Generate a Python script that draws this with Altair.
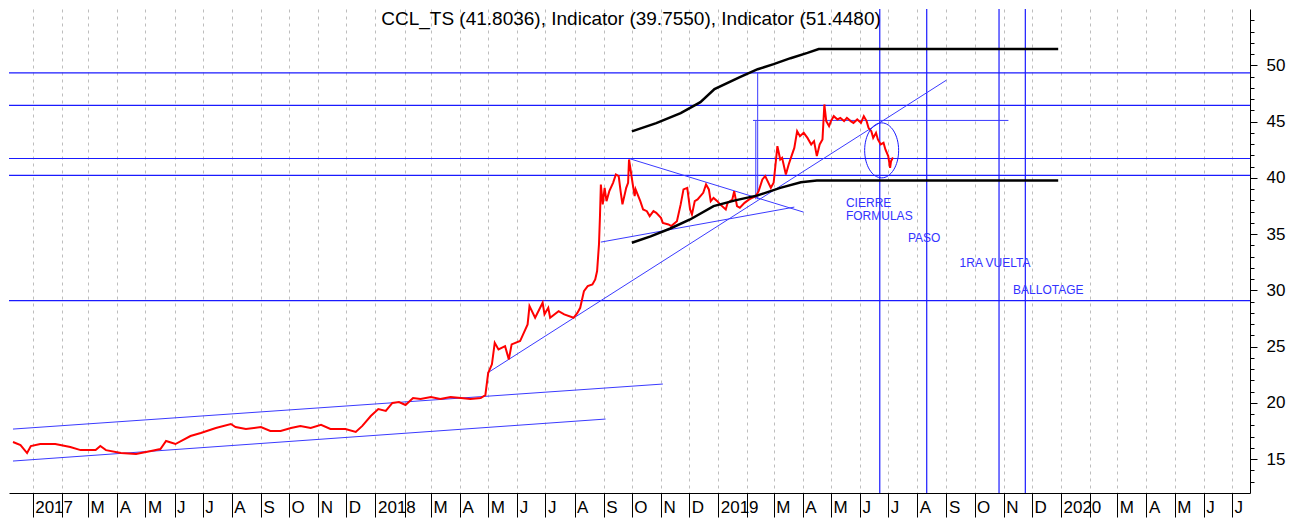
import altair as alt
import pandas as pd

# ---------------- data ----------------
red_dates = [
    "2016-12-11", "2016-12-19", "2016-12-26", "2016-12-30", "2017-01-09", "2017-01-25", "2017-02-10", "2017-02-21", "2017-03-09", "2017-03-14",
    "2017-03-20", "2017-04-05", "2017-04-21", "2017-05-07", "2017-05-17", "2017-05-23", "2017-06-02", "2017-06-18", "2017-06-29", "2017-07-15",
    "2017-07-31", "2017-08-05", "2017-08-16", "2017-09-01", "2017-09-11", "2017-09-22", "2017-10-03", "2017-10-13", "2017-10-24", "2017-11-04",
    "2017-11-14", "2017-11-30", "2017-12-11", "2017-12-18", "2017-12-27", "2018-01-04", "2018-01-12", "2018-01-19", "2018-01-26", "2018-02-02",
    "2018-02-10", "2018-02-18", "2018-03-01", "2018-03-11", "2018-03-22", "2018-04-02", "2018-04-12", "2018-04-23", "2018-04-28", "2018-05-01",
    "2018-05-05", "2018-05-08", "2018-05-12", "2018-05-19", "2018-05-23", "2018-05-26", "2018-06-04", "2018-06-12", "2018-06-14", "2018-06-20",
    "2018-06-28", "2018-06-30", "2018-07-04", "2018-07-06", "2018-07-15", "2018-07-21", "2018-07-31", "2018-08-04", "2018-08-07", "2018-08-11",
    "2018-08-15", "2018-08-20", "2018-08-23", "2018-08-25", "2018-08-27", "2018-08-28", "2018-08-29", "2018-08-31", "2018-09-02", "2018-09-04",
    "2018-09-07", "2018-09-11", "2018-09-14", "2018-09-17", "2018-09-19", "2018-09-21", "2018-09-25", "2018-09-27", "2018-09-28", "2018-10-02",
    "2018-10-04", "2018-10-05", "2018-10-10", "2018-10-13", "2018-10-17", "2018-10-20", "2018-10-24", "2018-10-27", "2018-11-01", "2018-11-03",
    "2018-11-09", "2018-11-12", "2018-11-18", "2018-11-22", "2018-11-25", "2018-11-29", "2018-12-02", "2018-12-04", "2018-12-07", "2018-12-10",
    "2018-12-13", "2018-12-16", "2018-12-19", "2018-12-22", "2018-12-24", "2018-12-27", "2018-12-31", "2019-01-03", "2019-01-09", "2019-01-11",
    "2019-01-16", "2019-01-18", "2019-01-21", "2019-01-24", "2019-01-29", "2019-02-03", "2019-02-06", "2019-02-10", "2019-02-13", "2019-02-17",
    "2019-02-20", "2019-02-26", "2019-03-01", "2019-03-05", "2019-03-08", "2019-03-10", "2019-03-14", "2019-03-17", "2019-03-20", "2019-03-23",
    "2019-03-26", "2019-03-29", "2019-04-02", "2019-04-06", "2019-04-10", "2019-04-13", "2019-04-16", "2019-04-19", "2019-04-22", "2019-04-24",
    "2019-04-26", "2019-04-29", "2019-05-01", "2019-05-04", "2019-05-08", "2019-05-11", "2019-05-15", "2019-05-18", "2019-05-22", "2019-05-25",
    "2019-05-29", "2019-06-02", "2019-06-05", "2019-06-08", "2019-06-10", "2019-06-13", "2019-06-15", "2019-06-18", "2019-06-20", "2019-06-23",
    "2019-06-26", "2019-06-28", "2019-07-01", "2019-07-03", "2019-07-04", "2019-07-06",
]
red_values = [
    16.53, 16.26, 15.55, 16.17, 16.35, 16.35, 16.08, 15.81, 15.81, 16.17,
    15.81, 15.55, 15.46, 15.73, 15.91, 16.62, 16.35, 17.06, 17.33, 17.78,
    18.13, 17.86, 17.69, 17.86, 17.51, 17.51, 17.78, 17.96, 17.78, 18.05,
    17.69, 17.69, 17.42, 17.96, 18.84, 19.46, 19.29, 20.00, 20.08, 19.82,
    20.44, 20.35, 20.53, 20.35, 20.53, 20.44, 20.35, 20.44, 20.70, 22.65,
    23.43, 25.35, 24.76, 25.05, 23.87, 25.20, 25.50, 26.98, 28.60, 27.57,
    28.90, 27.87, 28.45, 27.57, 28.16, 27.87, 27.57, 28.00, 28.45, 29.94,
    30.38, 30.53, 30.98, 31.72, 34.09, 36.45, 39.41, 37.64, 39.11, 37.93,
    38.82, 39.56, 40.30, 40.15, 38.82, 37.64, 39.11, 39.56, 41.63, 39.41,
    38.37, 38.97, 37.93, 37.19, 37.04, 36.60, 37.04, 36.89, 36.45, 36.00,
    35.86, 35.71, 36.15, 37.64, 38.97, 39.11, 37.19, 36.75, 37.93, 38.08,
    38.37, 38.67, 39.41, 38.97, 37.93, 38.22, 37.93, 37.64, 37.19, 37.78,
    38.08, 38.82, 37.49, 37.34, 37.78, 38.08, 38.22, 38.37, 38.82, 39.86,
    40.15, 39.11, 39.56, 42.82, 41.63, 41.78, 40.30, 41.19, 41.93, 42.66,
    44.15, 43.70, 44.00, 43.55, 42.97, 43.26, 41.93, 42.97, 43.41, 46.52,
    45.04, 44.59, 45.04, 45.48, 45.19, 45.33, 45.04, 45.33, 45.04, 44.88,
    45.19, 44.88, 45.48, 45.04, 44.44, 44.15, 43.55, 44.00, 43.41, 42.97,
    43.11, 42.52, 41.93, 40.89, 41.48, 41.80,
]

upper_dates = ["2018-10-01", "2018-10-27", "2018-11-22", "2018-12-13", "2018-12-28", "2019-01-24",
               "2019-02-12", "2019-03-01", "2019-03-19", "2019-04-06", "2019-04-18", "2019-12-29"]
upper_values = [44.13, 44.86, 45.75, 46.72, 47.88, 48.94, 49.65, 50.10, 50.63, 51.10, 51.448, 51.448]

lower_dates = ["2018-10-01", "2018-10-21", "2018-11-11", "2018-12-02", "2018-12-27", "2019-01-19",
               "2019-02-12", "2019-03-08", "2019-03-30", "2019-04-16", "2019-12-29"]
lower_values = [34.23, 34.80, 35.50, 36.30, 37.49, 38.00, 38.44, 39.11, 39.60, 39.755, 39.755]

hline_values = [49.33, 46.43, 41.72, 40.21, 29.10]
vline_dates = ["2019-06-22", "2019-08-11", "2019-10-27", "2019-11-24"]

seg_start_dates = ["2016-12-11", "2016-12-11", "2018-04-30", "2018-09-29", "2018-08-29", "2019-02-10", "2019-02-12", "2019-02-07"]
seg_start_values = [17.68, 14.84, 22.65, 41.69, 34.29, 45.04, 49.33, 45.10]
seg_end_dates = ["2018-11-03", "2018-09-03", "2019-09-01", "2019-04-02", "2019-03-23", "2019-02-10", "2019-02-12", "2019-11-06"]
seg_end_values = [21.68, 18.57, 48.68, 36.95, 37.40, 38.10, 38.10, 45.10]

note_labels = ["CIERRE", "FORMULAS", "PASO", "1RA VUELTA", "BALLOTAGE"]
note_dates = ["2019-05-17", "2019-05-17", "2019-07-22", "2019-09-15", "2019-11-11"]
note_values = [37.80, 36.63, 34.67, 32.40, 30.05]

ellipse_dates = ["2019-06-24"]
ellipse_values = [42.44]

title_text = "CCL_TS (41.8036), Indicator (39.7550), Indicator (51.4480)"

# ---------------- tables ----------------
red_df = pd.DataFrame({"date": red_dates, "value": red_values})
upper_df = pd.DataFrame({"date": upper_dates, "value": upper_values})
lower_df = pd.DataFrame({"date": lower_dates, "value": lower_values})
h_df = pd.DataFrame({"value": hline_values})
v_df = pd.DataFrame({"date": vline_dates})
seg_df = pd.DataFrame({"date": seg_start_dates, "value": seg_start_values,
                       "date2": seg_end_dates, "value2": seg_end_values})
note_df = pd.DataFrame({"date": note_dates, "value": note_values, "label": note_labels})
ell_df = pd.DataFrame({"date": ellipse_dates, "value": ellipse_values})
title_df = pd.DataFrame({"t": [title_text]})

# ---------------- scales / axes ----------------
x_scale = alt.Scale(
    type="utc",
    domain=[alt.DateTime(year=2016, month=12, date=6, hours=18, utc=True),
            alt.DateTime(year=2020, month=7, date=20, hours=6, utc=True)],
)
x_axis = alt.Axis(
    title=None,
    tickCount={"interval": "month", "step": 1},
    labelExpr=("utcmonth(datum.value) === 0 ? utcFormat(datum.value, '%Y') : "
               "(utcmonth(datum.value) === 1 ? '' : substring(utcFormat(datum.value, '%b'), 0, 1))"),
    labelAlign="left",
    labelBaseline="top",
    labelPadding=-18,
    labelOffset=2,
    tickSize=24,
    tickColor="black",
    domainColor="black",
    labelColor="black",
    labelFont="Liberation Sans Narrow, Liberation Sans, Arial",
    labelFontSize=17,
    labelOverlap=False,
    labelBound=False,
    labelFlush=False,
    grid=True,
    gridColor="#bdbdbd",
    gridDash=[3, 4],
    gridWidth=1,
)
y_scale = alt.Scale(domain=[12, 55], nice=False, zero=False)
y_axis = alt.Axis(
    title=None,
    orient="right",
    values=list(range(13, 55)),
    labelExpr="datum.value % 5 === 0 ? datum.label : ''",
    tickSize={"condition": {"test": "datum.value % 5 === 0", "value": 7}, "value": 4},
    tickColor="black",
    domainColor="black",
    labelColor="black",
    labelFont="Liberation Sans, Arial",
    labelFontSize=17,
    labelPadding=9,
    labelOverlap=False,
    labelBound=False,
    labelFlush=False,
    grid=False,
)


def X(field="date"):
    return alt.X(f"{field}:T", scale=x_scale, axis=x_axis)


def Y(field="value"):
    return alt.Y(f"{field}:Q", scale=y_scale, axis=y_axis)


BLUE = "#1a1aff"

hlines = alt.Chart(h_df).mark_rule(color=BLUE, strokeWidth=1.2).encode(y=Y())
vlines = alt.Chart(v_df).mark_rule(color=BLUE, strokeWidth=1.2).encode(x=X())
segs = alt.Chart(seg_df).mark_rule(color="#3a3aff", strokeWidth=1).encode(
    x=X(), x2=alt.X2("date2:T"), y=Y(), y2=alt.Y2("value2:Q")
)
red = alt.Chart(red_df).mark_line(color="#ff0000", strokeWidth=2).encode(x=X(), y=Y())
upper = alt.Chart(upper_df).mark_line(color="black", strokeWidth=2.5).encode(x=X(), y=Y())
lower = alt.Chart(lower_df).mark_line(color="black", strokeWidth=2.5).encode(x=X(), y=Y())
ellipse = alt.Chart(ell_df).mark_point(
    shape="M -0.618 0 A 0.618 1 0 1 1 0.618 0 A 0.618 1 0 1 1 -0.618 0 Z",
    size=3025, filled=False, color=BLUE, strokeWidth=1, opacity=1,
).encode(x=X(), y=Y())
notes = alt.Chart(note_df).mark_text(
    align="left", baseline="middle", font="Liberation Sans, Arial", fontSize=12, color="#3333ff"
).encode(x=X(), y=Y(), text="label:N")
title = alt.Chart(title_df).mark_text(
    align="center", baseline="middle", font="Liberation Sans, Arial", fontSize=19, color="black"
).encode(text="t:N", x=alt.value(622), y=alt.value(10))

chart = alt.layer(hlines, vlines, segs, red, upper, lower, ellipse, notes, title).properties(
    width=1241, height=484,
    padding={"left": 0, "top": 0, "right": 5, "bottom": 0},
    background="white",
).configure_view(strokeWidth=0)

chart.save("out.html", embed_options={"renderer": "svg", "actions": False})
